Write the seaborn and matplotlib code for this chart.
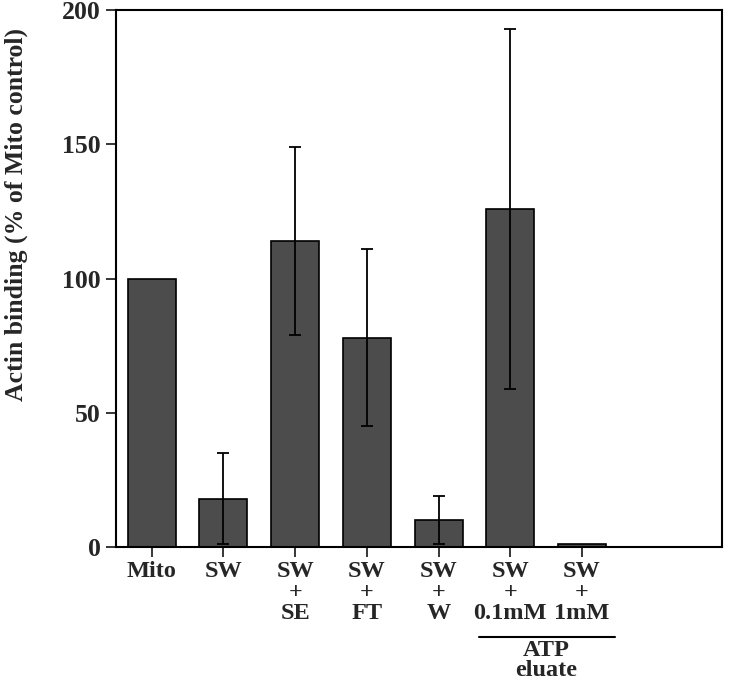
import matplotlib
matplotlib.use('Agg')
import matplotlib.pyplot as plt
import matplotlib.transforms as mtransforms
import seaborn as sns
import pandas as pd

# data
labels = ['Mito', 'SW', 'SW\n+\nSE', 'SW\n+\nFT', 'SW\n+\nW', 'SW\n+\n0.1mM', 'SW\n+\n1mM']
binding = [100, 18, 114, 78, 10, 126, 1]
errors = [0, 17, 35, 33, 9, 67, 0]

sns.set_theme(style='ticks')
plt.rcParams['font.family'] = ['Liberation Serif', 'DejaVu Serif']
plt.rcParams['font.weight'] = 'bold'

df = pd.DataFrame({'group': labels, 'binding': binding})

fig = plt.figure(figsize=(7.29, 6.88), dpi=100)
ax = fig.add_axes([0.159, 0.205, 0.831, 0.78])

sns.barplot(data=df, x='group', y='binding', color='#4c4c4c', saturation=1,
            edgecolor='black', linewidth=1.2, width=0.67, ax=ax)

# error bars (symmetric, drawn over the bars)
for i, (v, e) in enumerate(zip(binding, errors)):
    if e > 0:
        ax.errorbar(i, v, yerr=e, fmt='none', ecolor='black', elinewidth=1.3,
                    capsize=4, capthick=1.3, zorder=5)

ax.set_ylim(0, 200)
ax.set_xlim(-0.5, 7.95)
ax.set_yticks([0, 50, 100, 150, 200])
ax.set_xlabel('')
ax.set_ylabel('Actin binding (% of Mito control)', fontsize=18.5, fontweight='bold')
ax.yaxis.set_label_coords(-0.145, 0.62)
ax.tick_params(axis='both', direction='out', length=7, width=1.3, labelsize=18.5, pad=4)
ax.tick_params(axis='x', labelsize=17.5, pad=3)
for lab in ax.get_xticklabels():
    lab.set_linespacing(1.0)
    lab.set_fontweight('bold')
for lab in ax.get_yticklabels():
    lab.set_fontweight('bold')

for sp in ax.spines.values():
    sp.set_visible(True)
    sp.set_linewidth(1.5)
    sp.set_color('black')

# ATP eluate bracket below the last two groups
trans = mtransforms.blended_transform_factory(ax.transData, ax.transAxes)
ax.plot([4.57, 6.46], [-0.168, -0.168], color='black', lw=1.5,
        transform=trans, clip_on=False)
ax.text(5.5, -0.174, 'ATP\neluate', transform=trans, ha='center', va='top',
        fontsize=17.5, fontweight='bold', linespacing=0.9)

fig.savefig('out.png', dpi=100)
